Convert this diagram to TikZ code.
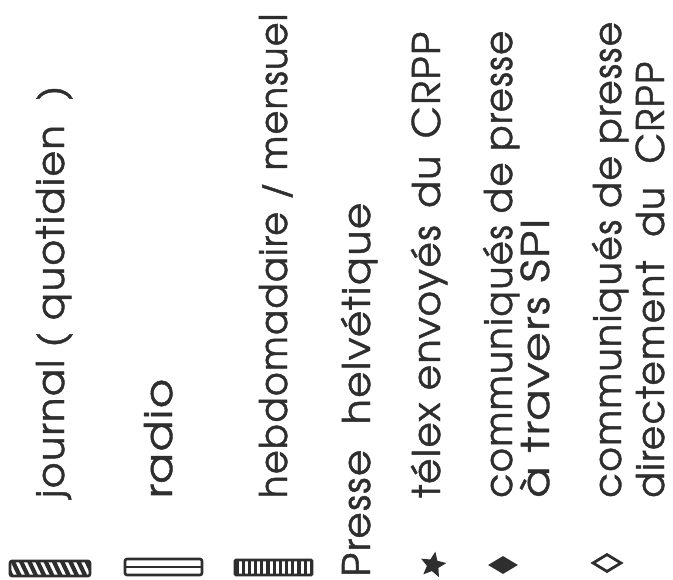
\documentclass[tikz,border=0pt]{standalone}
\usepackage{fontspec}
\usepackage{graphicx}
\setmainfont{texgyreadventor-regular.otf}[FakeBold=1.2, LetterSpace=4]
\usetikzlibrary{shapes.geometric}
\definecolor{ink}{HTML}{2E2E2E}

% set a line of lettering to a given length (in pt), keeping its height
\newcommand\lettering[2]{\resizebox{#1pt}{\height}{#2}}

\begin{document}
\begin{tikzpicture}[x=1pt,y=-1pt,
  legendtext/.style={rotate=90, anchor=base west, inner sep=0pt, text=ink,
    font=\fontsize{38}{38}\selectfont},
  barframe/.style={draw=ink, line width=2.6pt, rounded corners=2pt},
  stripe/.style={draw=ink, line width=4.2pt}
]
\useasboundingbox (0,0) rectangle (673,580);

% legend entries, read from bottom to top
\node[legendtext] (journal) at (64,498) {\lettering{412}{journal\ (\ quotidien\ \ )}};
\node[legendtext] (radio)   at (172,498) {\lettering{119}{radio}};
\node[legendtext] (hebdo)   at (287,498) {\lettering{484}{hebdomadaire / mensuel}};
\node[legendtext] (presse)  at (370,577) {\lettering{374}{Presse\ \ helvétique}};
\node[legendtext] (telex)   at (440,498) {\lettering{466}{télex envoyés\hspace{0.45em}du\hspace{0.45em}CRPP}};
\node[legendtext] (spia)    at (512,498) {\lettering{467}{communiqués\ de\ presse}};
\node[legendtext] (spib)    at (549,498) {\lettering{279}{à\ travers\ SPI}};
\node[legendtext] (dira)    at (621,498) {\lettering{476}{communiqués\ de\ presse}};
\node[legendtext] (dirb)    at (664,498) {\lettering{436}{directement\ \ du\ \ CRPP}};

% journal: diagonally hatched bar
\coordinate (jA) at (10,561);
\coordinate (jB) at (90,576);
\begin{scope}
  \clip[rounded corners=2pt] (jA) rectangle (jB);
  \foreach \i in {0,...,11}
    \draw[stripe] (3+\i*8.2,558) -- (13+\i*8.2,579);
\end{scope}
\draw[barframe] (jA) rectangle (jB);

% radio: double-lined bar
\coordinate (rA) at (125,559);
\coordinate (rB) at (202,575);
\coordinate (rL) at (125,567);
\coordinate (rR) at (202,567);
\draw[barframe] (rA) rectangle (rB);
\draw[draw=ink, line width=2.2pt] (rL) -- (rR);

% hebdomadaire: vertically striped bar
\coordinate (hA) at (235,560);
\coordinate (hB) at (312,575);
\begin{scope}
  \clip (hA) rectangle (hB);
  \foreach \i in {0,...,12}
    \draw[draw=ink, line width=3.2pt] (237+\i*6.2,558) -- (237+\i*6.2,577);
\end{scope}
\draw[barframe, rounded corners=1pt] (hA) rectangle (hB);

% point markers
\node[star, star points=5, star point ratio=2.2, fill=ink, inner sep=0pt,
      minimum size=27pt, rotate=-10] (telexmark) at (433,565) {};
\node[diamond, fill=ink, inner sep=0pt, minimum width=30pt,
      minimum height=18pt] (spimark) at (503,565) {};
\node[diamond, draw=ink, line width=2.8pt, inner sep=0pt, minimum width=29pt,
      minimum height=18pt] (dirmark) at (607,563) {};
\end{tikzpicture}
\end{document}
